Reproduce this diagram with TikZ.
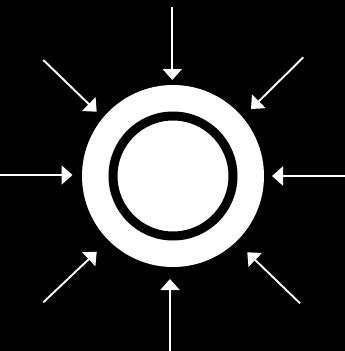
\documentclass[tikz,border=0pt]{standalone}
\usetikzlibrary{arrows.meta}
\begin{document}
\begin{tikzpicture}[x=1pt,y=-1pt,
  inarrow/.style={draw=white,line width=1.9pt,-{Triangle[width=19pt,length=11pt]}},
  disk/.style={circle,fill=white,inner sep=0pt,minimum size=182pt},
  ringc/.style={circle,draw=black,fill=white,line width=9pt,inner sep=0pt,minimum size=120pt}]
\fill[black] (0,0) rectangle (345,351);
\useasboundingbox (0,0) rectangle (345,351);
\node[disk] (outer) at (173,176) {};
\node[ringc] (ring) at (173,176) {};
% arrow endpoints
\coordinate (tT) at (172.3,7);   \coordinate (hT) at (172.3,80);
\coordinate (tB) at (170,351);   \coordinate (hB) at (170,279);
\coordinate (tL) at (0,175);     \coordinate (hL) at (72.5,175);
\coordinate (tR) at (345,176);   \coordinate (hR) at (272,176);
\coordinate (tTL) at (43.3,60);  \coordinate (hTL) at (96.7,111.7);
\coordinate (tTR) at (303.3,57.3); \coordinate (hTR) at (251,109);
\coordinate (tBR) at (300,303.3); \coordinate (hBR) at (247.3,252.3);
\coordinate (tBL) at (43.3,302.3); \coordinate (hBL) at (96.7,251.7);
\foreach \d in {T,B,L,R,TL,TR,BR,BL}{
  \draw[inarrow] (t\d) -- (h\d);
}
\end{tikzpicture}
\end{document}
